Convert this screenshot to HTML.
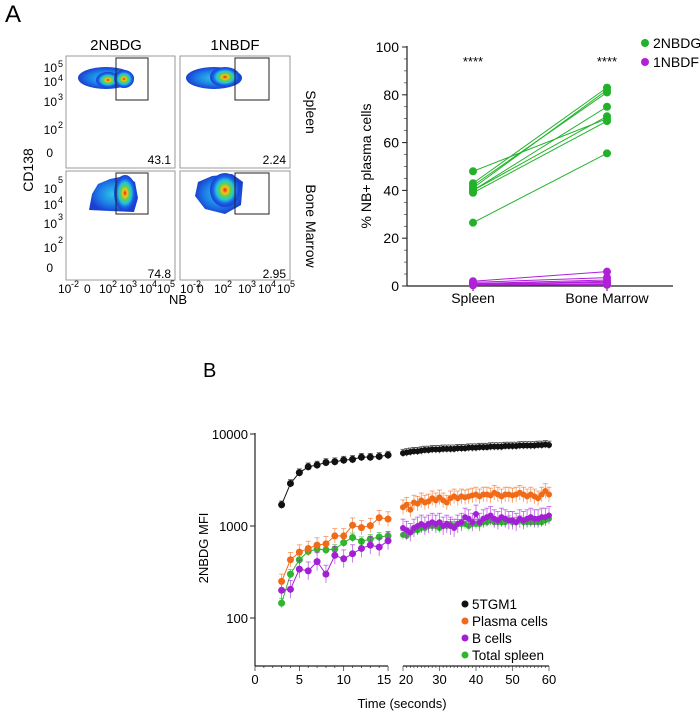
<!DOCTYPE html>
<html><head><meta charset="utf-8">
<style>
body{margin:0;background:#fff;font-family:"Liberation Sans",Arial,sans-serif;}
svg{display:block}
</style></head>
<body>
<svg width="700" height="712" viewBox="0 0 700 712" xmlns="http://www.w3.org/2000/svg" font-family="Liberation Sans, Arial, sans-serif">
<defs>
<radialGradient id="heat" cx="50%" cy="50%" r="50%">
<stop offset="0" stop-color="#e8201a"/><stop offset="0.2" stop-color="#f6c21a"/><stop offset="0.38" stop-color="#5fd04a"/><stop offset="0.58" stop-color="#23c4e0"/><stop offset="0.8" stop-color="#1a5fe6"/><stop offset="1" stop-color="#1a3fd0"/>
</radialGradient>
<radialGradient id="cool" cx="50%" cy="50%" r="50%">
<stop offset="0" stop-color="#2ec8e0"/><stop offset="0.6" stop-color="#1c7fe8"/><stop offset="1" stop-color="#1a40d0"/>
</radialGradient>
</defs>
<text x="5" y="22" font-size="24">A</text>
<text x="203" y="377" font-size="20">B</text>

<g>
<text x="116" y="50" font-size="15" text-anchor="middle">2NBDG</text>
<text x="235" y="50" font-size="15" text-anchor="middle">1NBDF</text>
<text transform="translate(306,112) rotate(90)" font-size="14" text-anchor="middle">Spleen</text>
<text transform="translate(306,226) rotate(90)" font-size="14" text-anchor="middle">Bone Marrow</text>
<text transform="translate(33,170) rotate(-90)" font-size="14" text-anchor="middle">CD138</text>
<text x="178" y="304" font-size="13" text-anchor="middle">NB</text>

<rect x="66" y="56" width="109" height="112" fill="none" stroke="#999"/>
<rect x="180" y="56" width="110" height="112" fill="none" stroke="#999"/>
<rect x="66" y="171" width="109" height="109" fill="none" stroke="#999"/>
<rect x="180" y="171" width="110" height="109" fill="none" stroke="#999"/>

<ellipse cx="106" cy="78" rx="28" ry="11" fill="url(#cool)"/>
<ellipse cx="108" cy="80" rx="12" ry="8" fill="url(#heat)"/>
<ellipse cx="124" cy="79" rx="10" ry="9" fill="url(#heat)"/>
<ellipse cx="214" cy="78" rx="28" ry="11" fill="url(#cool)"/>
<ellipse cx="225" cy="77" rx="15" ry="10" fill="url(#heat)"/>
<path d="M89,210 L92,194 L98,184 L110,179 L125,176 L135,182 L138,198 L134,212 L110,211 Z" fill="url(#cool)"/>
<ellipse cx="125" cy="193" rx="11" ry="18" fill="url(#heat)"/>
<path d="M195,196 L198,182 L212,176 L232,174 L243,182 L241,205 L225,214 L205,209 Z" fill="url(#cool)"/>
<ellipse cx="225" cy="190" rx="15" ry="17" fill="url(#heat)"/>

<rect x="116" y="58" width="32" height="42" fill="none" stroke="#222"/>
<rect x="235" y="58" width="34" height="42" fill="none" stroke="#222"/>
<rect x="116" y="173" width="32" height="41" fill="none" stroke="#222"/>
<rect x="235" y="173" width="34" height="41" fill="none" stroke="#222"/>

<g font-size="12" text-anchor="end">
<text x="171" y="164">43.1</text>
<text x="286" y="164">2.24</text>
<text x="171" y="278">74.8</text>
<text x="286" y="278">2.95</text>
</g>
<g font-size="12" text-anchor="end">
<text x="57" y="72">10</text><text x="63" y="67" font-size="9">5</text>
<text x="57" y="86">10</text><text x="63" y="81" font-size="9">4</text>
<text x="57" y="106">10</text><text x="63" y="100" font-size="9">3</text>
<text x="57" y="134">10</text><text x="63" y="128" font-size="9">2</text>
<text x="53" y="157">0</text>
<text x="57" y="193">10</text><text x="63" y="183" font-size="9">5</text>
<text x="57" y="209">10</text><text x="63" y="203" font-size="9">4</text>
<text x="57" y="228">10</text><text x="63" y="220" font-size="9">3</text>
<text x="57" y="252">10</text><text x="63" y="243" font-size="9">2</text>
<text x="53" y="272">0</text>
</g>
<g font-size="12">
<text x="58" y="293">10</text><text x="71" y="287" font-size="9">-2</text>
<text x="84" y="293">0</text>
<text x="99" y="293">10</text><text x="112" y="287" font-size="9">2</text>
<text x="119" y="293">10</text><text x="132" y="287" font-size="9">3</text>
<text x="139" y="293">10</text><text x="152" y="287" font-size="9">4</text>
<text x="157" y="293">10</text><text x="170" y="287" font-size="9">5</text>
<text x="180" y="293">10</text><text x="193" y="287" font-size="9">-2</text>
<text x="197" y="293">0</text>
<text x="214" y="293">10</text><text x="227" y="287" font-size="9">2</text>
<text x="238" y="293">10</text><text x="251" y="287" font-size="9">3</text>
<text x="258" y="293">10</text><text x="271" y="287" font-size="9">4</text>
<text x="277" y="293">10</text><text x="290" y="287" font-size="9">5</text>
</g>
</g>

<g id="pairChart"></g>
<g id="timeChart"></g>

<script>
const NS="http://www.w3.org/2000/svg";
function mk(parent,tag,attrs,txt){const e=document.createElementNS(NS,tag);for(const k in attrs)e.setAttribute(k,attrs[k]);if(txt!==undefined)e.textContent=txt;parent.appendChild(e);return e;}

const pairCategories=["Spleen","Bone Marrow"];
const nbdgSpleen=[48,43,41,40,40,39,42,26.5];
const nbdgMarrow=[70,83,82,75,71,69,81,55.5];
const nbdfSpleen=[2,1.5,1,0.5,0.5,1,0.8,0.3];
const nbdfMarrow=[6,3.5,2.5,2,1,1.5,0.8,0.5];
const pairTicks=[0,20,40,60,80,100];

const tLeft=[3,4,5,6,7,8,9,10,11,12,13,14,15];
const tRight=[20,21,22,23,24,25,26,27,28,29,30,31,32,33,34,35,36,37,38,39,40,41,42,43,44,45,46,47,48,49,50,51,52,53,54,55,56,57,58,59,60];
const tgmLeft=[1700,2900,3800,4400,4600,4900,5000,5200,5300,5600,5600,5700,5900];
const tgmRight=[6200,6300,6400,6500,6500,6600,6700,6700,6800,6800,6800,6900,6900,6900,6900,7000,7000,7000,7100,7100,7100,7200,7200,7200,7300,7300,7300,7300,7400,7400,7400,7400,7500,7500,7500,7500,7500,7600,7600,7700,7600];
const pcLeft=[250,430,520,570,620,640,780,780,1020,960,1010,1230,1190];
const pcRight=[1600,1700,1500,1800,1750,1900,1800,1850,2000,1900,2050,1900,1800,2000,2100,2000,2100,2050,2100,2150,2200,2100,2200,2200,2150,2300,2200,2100,2200,2200,2150,2200,2300,2200,2100,2200,2100,2000,2200,2400,2200];
const bLeft=[200,205,340,325,410,300,480,440,500,570,620,590,690];
const bRight=[950,900,850,950,1000,1050,1000,1050,1100,1050,1100,1000,1050,1000,950,1050,1100,1250,1200,1100,1350,1100,1200,1250,1300,1200,1150,1250,1200,1150,1150,1100,1200,1150,1200,1250,1200,1200,1250,1250,1300];
const tsLeft=[145,300,430,530,560,550,560,660,750,680,720,760,780];
const tsRight=[800,780,850,900,900,950,950,1000,1000,1000,950,1000,1000,1050,1000,1050,1050,1050,1000,1050,1050,1050,1100,1100,1150,1100,1100,1100,1100,1150,1100,1100,1150,1100,1100,1100,1100,1100,1100,1150,1200];
const logTicks=[100,1000,10000];
const leftTicks=[0,5,10,15];
const rightTicks=[20,30,40,50,60];

(function(){
  const g=document.getElementById('pairChart');
  const y=v=>286-v*2.39;
  const x=i=>473+i*134;
  let ax=mk(g,'line',{x1:407,y1:46,x2:407,y2:286,stroke:'#222','stroke-width':1.2});
  
  let bx=mk(g,'line',{x1:407,y1:286,x2:673,y2:286,stroke:'#222','stroke-width':1.2});
  
  pairTicks.forEach(t=>{
    mk(g,'line',{x1:402,y1:y(t),x2:407,y2:y(t),stroke:'#222'});
    const tl=mk(g,'text',{x:399,y:y(t)+5,'font-size':14,'text-anchor':'end'},String(t));
    
  });
  for(let t=0;t<=100;t+=5){mk(g,'line',{x1:404,y1:y(t),x2:407,y2:y(t),stroke:'#222','stroke-width':0.6});}
  pairCategories.forEach((c,i)=>{
    mk(g,'line',{x1:x(i),y1:286,x2:x(i),y2:291,stroke:'#222'});
    const tl=mk(g,'text',{x:x(i),y:303,'font-size':14,'text-anchor':'middle'},c);
    
  });
  const yt=mk(g,'text',{transform:'translate(371,166) rotate(-90)','font-size':14,'text-anchor':'middle'},'% NB+ plasma cells');
  
  [473,607].forEach(px=>{const s=mk(g,'text',{x:px,y:66,'font-size':13,'text-anchor':'middle'},'****');
    });
  function series(a,b,col,name){
    a.forEach((v,i)=>{
      const l=mk(g,'line',{x1:x(0),y1:y(v),x2:x(1),y2:y(b[i]),stroke:col,'stroke-width':1});
      
    });
    a.forEach(v=>{const c=mk(g,'circle',{cx:x(0),cy:y(v),r:4,fill:col});});
    b.forEach(v=>{const c=mk(g,'circle',{cx:x(1),cy:y(v),r:4,fill:col});});
  }
  series(nbdgSpleen,nbdgMarrow,'#22b22a','2nbdg');
  series(nbdfSpleen,nbdfMarrow,'#b020d8','1nbdf');
  [['2NBDG','#22b22a',43],['1NBDF','#b020d8',62]].forEach(([n,c,yy])=>{
    const le=mk(g,'g',{});
    mk(le,'circle',{cx:645,cy:yy,r:4,fill:c});
    mk(le,'text',{x:653,y:yy+5,'font-size':14},n);
  });
})();

(function(){
  const g=document.getElementById('timeChart');
  const y=v=>526-(Math.log10(v)-3)*92;
  const xl=t=>255+t*8.87;
  const xr=t=>403+(t-20)*3.65;
  let ax=mk(g,'line',{x1:255,y1:433,x2:255,y2:666,stroke:'#222','stroke-width':1.2});
  
  logTicks.forEach(t=>{
    mk(g,'line',{x1:250,y1:y(t),x2:255,y2:y(t),stroke:'#222'});
    const tl=mk(g,'text',{x:248,y:y(t)+5,'font-size':13,'text-anchor':'end'},String(t));
    
  });
  const yt=mk(g,'text',{transform:'translate(208,548) rotate(-90)','font-size':13,'text-anchor':'middle'},'2NBDG MFI');
  
  let x1=mk(g,'line',{x1:255,y1:666,x2:388,y2:666,stroke:'#222','stroke-width':1.2});
  
  let x2=mk(g,'line',{x1:403,y1:666,x2:549,y2:666,stroke:'#222','stroke-width':1.2});
  
  for(let t=0;t<=15;t++)mk(g,'line',{x1:xl(t),y1:666,x2:xl(t),y2:t%5?668:671,stroke:'#222','stroke-width':0.7});
  for(let t=20;t<=60;t++)mk(g,'line',{x1:xr(t),y1:666,x2:xr(t),y2:t%10?668:671,stroke:'#222','stroke-width':0.6});
  leftTicks.forEach(t=>{const tl=mk(g,'text',{x:xl(t)+(t===15?-4:0),y:684,'font-size':13,'text-anchor':'middle'},String(t));});
  rightTicks.forEach(t=>{const tl=mk(g,'text',{x:xr(t)+(t===20?3:0),y:684,'font-size':13,'text-anchor':'middle'},String(t));});
  const xt=mk(g,'text',{x:402,y:708,'font-size':13,'text-anchor':'middle'},'Time (seconds)');
  
  function series(ts,vs,xf,col,name,r,err){
    const pts=ts.map((t,i)=>xf(t)+','+y(vs[i])).join(' ');
    const pl=mk(g,'polyline',{points:pts,fill:'none',stroke:col,'stroke-width':1});
    
    ts.forEach((t,i)=>{
      const v=vs[i];const cx=xf(t);
      mk(g,'line',{x1:cx,y1:y(v*(1+err)),x2:cx,y2:y(v/(1+err)),stroke:col,'stroke-width':0.8,opacity:0.7});
      mk(g,'line',{x1:cx-2.5,y1:y(v*(1+err)),x2:cx+2.5,y2:y(v*(1+err)),stroke:col,'stroke-width':0.8,opacity:0.7});
      const c=mk(g,'circle',{cx:cx,cy:y(v),r:r,fill:col});
      
    });
  }
  const S=[
    [tsLeft,tsRight,'#2fb52f','total-spleen',0.12],
    [bLeft,bRight,'#a21fd6','b-cells',0.25],
    [pcLeft,pcRight,'#f06a18','plasma-cells',0.2],
    [tgmLeft,tgmRight,'#111','5tgm1',0.1]
  ];
  S.forEach(([a,b,c,n,e])=>{series(tLeft,a,xl,c,n,3.5,e);series(tRight,b,xr,c,n,3,e);});
  [['5TGM1','#111',604],['Plasma cells','#f06a18',621],['B cells','#a21fd6',638],['Total spleen','#2fb52f',655]].forEach(([n,c,yy])=>{
    const le=mk(g,'g',{});
    mk(le,'circle',{cx:465,cy:yy,r:3.5,fill:c});
    mk(le,'text',{x:472,y:yy+5,'font-size':13.5},n);
  });
})();
</script>
</svg>
</body></html>
